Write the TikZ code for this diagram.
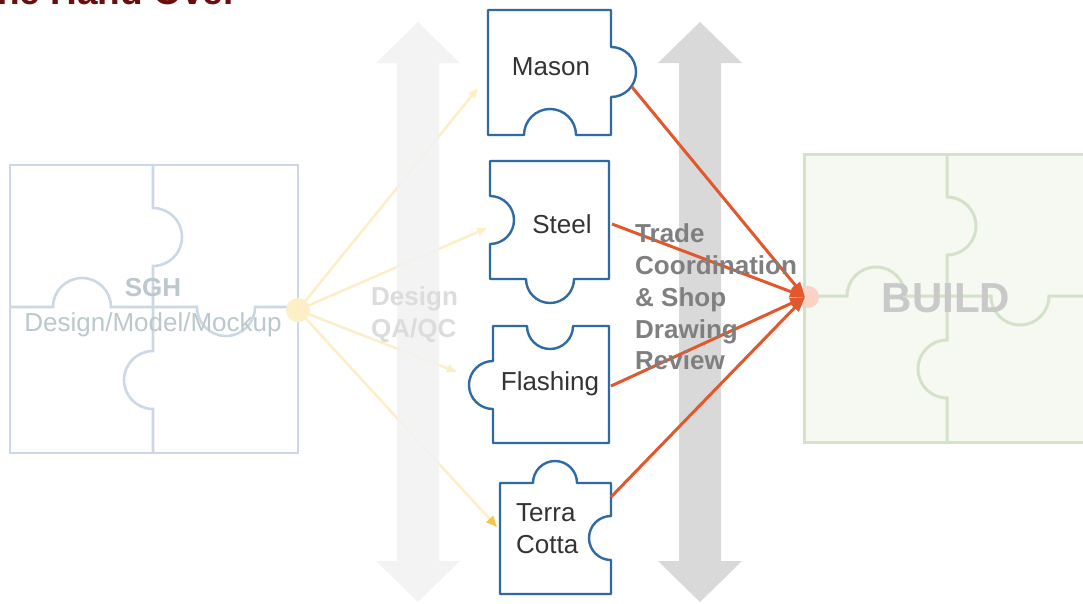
\documentclass[tikz,border=0pt]{standalone}
\usepackage{fontspec}
\setmainfont{Liberation Sans}
\usetikzlibrary{arrows.meta}

\definecolor{titlered}{HTML}{6B0D0D}
\definecolor{sghline}{HTML}{CDD8E6}
\definecolor{sghtext}{HTML}{BCC8CC}
\definecolor{buildfill}{HTML}{F6F9F2}
\definecolor{buildline}{HTML}{D3E2C8}
\definecolor{buildtext}{HTML}{C9C9C9}
\definecolor{bandlight}{HTML}{F2F2F2}
\definecolor{banddark}{HTML}{D9D9D9}
\definecolor{qatext}{HTML}{DCDCDC}
\definecolor{tradetext}{HTML}{7F7F7F}
\definecolor{pieceline}{HTML}{2F6AA2}
\definecolor{piecetext}{HTML}{333333}
\definecolor{redline}{HTML}{E0582B}
\definecolor{pinkdot}{HTML}{F8D3C6}
\definecolor{yellowline}{HTML}{FCEFC8}
\definecolor{yellowhub}{HTML}{FDF0C6}
\definecolor{yellowtip}{HTML}{F2C84B}

\tikzset{
  % four-piece jigsaw square, origin at its top left corner
  jigsaw/.pic={
    \path[fill=jigfill, draw=jigline, line width=\jigwidth] (0,0) rectangle (288,-288);
    \draw[jigline, line width=\jigwidth]
      (143,0) -- (143,-43) arc[start angle=90, end angle=-90, radius=29]
      -- (143,-186) arc[start angle=90, end angle=270, radius=29] -- (143,-288);
    \draw[jigline, line width=\jigwidth]
      (0,-142) -- (43,-142) arc[start angle=180, end angle=0, radius=29]
      -- (187,-142) arc[start angle=180, end angle=360, radius=29] -- (288,-142);
  },
  piece/.style={fill=white, draw=pieceline, line width=2.4pt, line join=round},
  piecelabel/.style={text=piecetext, font=\fontsize{26}{32}\selectfont, inner sep=0pt},
  feed/.style={yellowline, line width=2.5pt, -{Triangle[length=10pt,width=8pt]}},
  trade/.style={redline, line width=3pt, -{Triangle[length=15pt,width=11pt]}},
}
\newcommand{\jigwidth}{3pt}

\begin{document}
\begin{tikzpicture}[x=1pt,y=1pt]
\useasboundingbox (0,0) rectangle (1083,-603);
\fill[white] (0,0) rectangle (1083,-603);

% title, running off the top left corner
\node[anchor=base east, inner sep=0pt, text=titlered,
      font=\fontsize{37}{40}\selectfont\bfseries] (title) at (238,-4) {The Hand Over};

% design and build jigsaw squares
\begin{scope}
  \colorlet{jigline}{sghline}\colorlet{jigfill}{white}
  \renewcommand{\jigwidth}{2.6pt}
  \pic at (10,-165) {jigsaw};
\end{scope}
\begin{scope}
  \colorlet{jigline}{buildline}\colorlet{jigfill}{buildfill}
  \pic at (804,-154) {jigsaw};
\end{scope}

% feed lines from the design square to the trade pieces
\node[circle, fill=yellowhub, minimum size=24pt, inner sep=0pt] (sghhub) at (298,-310) {};
\coordinate (mason-in) at (478,-88);
\coordinate (steel-in) at (487,-228);
\coordinate (flash-in) at (457,-372);
\coordinate (terra-in) at (497,-527);
\draw[feed] (sghhub.center) -- (mason-in);
\draw[feed] (sghhub.center) -- (steel-in);
\draw[feed] (sghhub.center) -- (flash-in);
\draw[feed, -{Triangle[length=11pt,width=9pt,color=yellowtip]}] (sghhub.center) -- (terra-in);

% two-way review bands
\fill[bandlight, opacity=0.85]
  (418,-22) -- (460,-63) -- (439,-63) -- (439,-561) -- (460,-561) -- (418,-602)
  -- (376,-561) -- (397,-561) -- (397,-63) -- (376,-63) -- cycle;
\fill[banddark]
  (700,-22) -- (742,-63) -- (721,-63) -- (721,-561) -- (742,-561) -- (700,-602)
  -- (658,-561) -- (679,-561) -- (679,-63) -- (658,-63) -- cycle;

% trade pieces
\draw[piece] (488,-10) -- (611,-10) -- (611,-47) arc[start angle=90, end angle=-90, radius=25]
  -- (611,-135) -- (576,-135) arc[start angle=0, end angle=180, radius=26] -- (488,-135) -- cycle;
\draw[piece] (490,-161) -- (609,-161) -- (609,-279) -- (574,-279)
  arc[start angle=0, end angle=-180, radius=24] -- (490,-279) -- (490,-244)
  arc[start angle=-90, end angle=90, radius=24] -- cycle;
\draw[piece] (493,-326) -- (527,-326) arc[start angle=180, end angle=360, radius=23]
  -- (609,-326) -- (609,-443) -- (493,-443) -- (493,-409)
  arc[start angle=-90, end angle=-270, radius=24] -- cycle;
\draw[piece] (500,-483) -- (533,-483) arc[start angle=180, end angle=0, radius=22]
  -- (611,-483) -- (611,-516) arc[start angle=90, end angle=270, radius=22]
  -- (611,-594) -- (500,-594) -- cycle;

\node[piecelabel, anchor=base] (mason) at (551,-75) {Mason};
\node[piecelabel, anchor=base] (steel) at (562,-233) {Steel};
\node[piecelabel, anchor=base] (flash) at (550,-390) {Flashing};
\node[piecelabel, anchor=west, align=left] (terra) at (516,-528.7) {Terra\\Cotta};

% trade coordination lines into the build square
\node[circle, fill=pinkdot, minimum size=22pt, inner sep=0pt] (buildhub) at (808,-297) {};
\coordinate (mason-out) at (632,-87);
\coordinate (steel-out) at (612,-224);
\coordinate (flash-out) at (611,-386);
\coordinate (terra-out) at (611,-497);
\coordinate (build-in) at (805,-297);
\draw[trade] (mason-out) -- (build-in);
\draw[trade] (steel-out) -- (build-in);
\draw[trade] (flash-out) -- (build-in);
\draw[trade] (terra-out) -- (build-in);

% labels
\node[anchor=center, align=center, inner sep=0pt, text=sghtext,
      font=\fontsize{26}{35}\selectfont] (sgh) at (153,-307.8)
  {\textbf{SGH}\\Design/Model/Mockup};
\node[anchor=base, inner sep=0pt, text=buildtext,
      font=\fontsize{42}{46}\selectfont\bfseries] (build) at (946,-312) {BUILD};
\node[anchor=west, align=left, inner sep=0pt, text=qatext,
      font=\fontsize{26}{32}\selectfont\bfseries] (qa) at (371,-315) {Design\\QA/QC};
\node[anchor=west, align=left, inner sep=0pt, text=tradetext,
      font=\fontsize{26}{31.75}\selectfont\bfseries] (tradelabel) at (635,-297)
  {Trade\\Coordination\\\& Shop\\Drawing\\Review};
\end{tikzpicture}
\end{document}
